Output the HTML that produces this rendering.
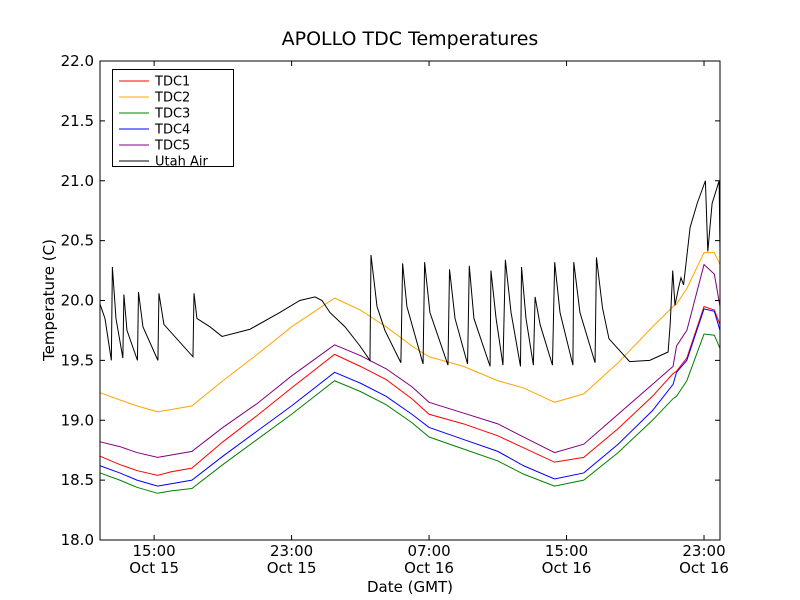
<!DOCTYPE html>
<html><head><meta charset="utf-8"><style>
body{margin:0;background:#fff}
svg{display:block;font-family:"DejaVu Sans","Liberation Sans",sans-serif}
</style></head><body>
<svg id="chart" width="800" height="600" viewBox="0 0 800 600">
<rect width="800" height="600" fill="#fff"/>
<text x="410" y="45" font-size="19" text-anchor="middle">APOLLO TDC Temperatures</text>
<g id="plot"></g>
<g id="axes"></g>
<text x="410" y="592" font-size="15" text-anchor="middle">Date (GMT)</text>
<text transform="translate(54,300) rotate(-90)" font-size="15" text-anchor="middle">Temperature (C)</text>
<g id="legend"></g>
</svg>
<script>
const hours=[11.85,13,14,15.2,16,17.2,19,21,23,25.5,27,28.5,30,31,33,35,36.5,38.3,40,42,44,45.2,45.4,46,47,47.6,47.93];
const tdc1=[18.70,18.63,18.58,18.54,18.57,18.60,18.82,19.04,19.27,19.55,19.45,19.34,19.18,19.05,18.97,18.87,18.77,18.65,18.69,18.93,19.20,19.39,19.41,19.52,19.95,19.92,19.80];
const tdc2=[19.23,19.17,19.12,19.07,19.09,19.12,19.33,19.55,19.78,20.02,19.92,19.78,19.62,19.53,19.45,19.33,19.27,19.15,19.22,19.48,19.78,19.95,19.97,20.10,20.40,20.40,20.30];
const tdc3=[18.56,18.50,18.44,18.39,18.41,18.43,18.63,18.84,19.05,19.33,19.24,19.13,18.98,18.86,18.76,18.66,18.55,18.45,18.50,18.73,19.00,19.18,19.20,19.33,19.72,19.71,19.60];
const tdc4=[18.62,18.56,18.50,18.45,18.47,18.50,18.70,18.91,19.12,19.40,19.31,19.20,19.05,18.94,18.84,18.74,18.62,18.51,18.56,18.80,19.08,19.30,19.40,19.50,19.93,19.91,19.75];
const tdc5=[18.82,18.78,18.73,18.69,18.71,18.74,18.94,19.14,19.37,19.63,19.54,19.43,19.28,19.15,19.06,18.97,18.86,18.73,18.80,19.05,19.30,19.45,19.62,19.75,20.30,20.22,19.95];
const airHours=[11.85,12.14,12.51,12.57,12.78,13.18,13.24,13.42,14.03,14.09,14.35,15.22,15.28,15.57,17.26,17.32,17.49,18.25,18.95,20.58,22.32,23.48,24.36,24.77,25.23,26.11,26.98,27.56,27.62,27.97,28.43,29.36,29.46,29.71,30.65,30.74,31.05,32.10,32.19,32.51,33.24,33.34,33.61,34.55,34.60,34.90,35.30,35.44,35.77,36.32,36.38,36.64,37.07,37.17,37.46,38.18,38.31,38.62,39.37,39.42,39.78,40.66,40.74,41.09,41.47,42.67,43.84,44.91,45.03,45.18,45.31,45.51,45.66,45.81,46.19,46.60,47.08,47.22,47.47,47.88,47.93];
const airValues=[19.97,19.85,19.50,20.28,19.85,19.52,20.05,19.75,19.50,20.07,19.78,19.50,20.06,19.80,19.53,20.06,19.85,19.78,19.70,19.76,19.90,20.00,20.03,20.00,19.90,19.78,19.62,19.50,20.38,19.95,19.75,19.48,20.31,19.95,19.47,20.32,19.90,19.46,20.26,19.85,19.47,20.29,19.85,19.45,20.25,19.85,19.46,20.34,19.90,19.45,20.28,19.85,19.46,20.03,19.80,19.46,20.32,19.90,19.46,20.32,19.90,19.48,20.36,19.94,19.68,19.49,19.50,19.57,19.80,20.25,19.96,20.10,20.19,20.13,20.61,20.81,21.00,20.41,20.81,21.00,20.40];
const yTicks=[18.0,18.5,19.0,19.5,20.0,20.5,21.0,21.5,22.0];
const xTickHours=[15,23,31,39,47];
const xTickTimes=["15:00","23:00","07:00","15:00","23:00"];
const xTickDates=["Oct 15","Oct 15","Oct 16","Oct 16","Oct 16"];
const seriesNames=["TDC1","TDC2","TDC3","TDC4","TDC5","Utah Air"];
const seriesColors=["red","orange","green","blue","purple","black"];

const L=100,R=720,T=61,B=540,H0=11.85,H1=47.93,V0=18,V1=22;
function xs(h){return L+(h-H0)/(H1-H0)*(R-L);}
function ys(v){return B-(v-V0)/(V1-V0)*(B-T);}
const NS="http://www.w3.org/2000/svg";
function mk(tag,attrs,parent){const e=document.createElementNS(NS,tag);for(const k in attrs)e.setAttribute(k,attrs[k]);parent.appendChild(e);return e;}
const plot=document.getElementById('plot');
const seriesList=[[hours,tdc1],[hours,tdc2],[hours,tdc3],[hours,tdc4],[hours,tdc5],[airHours,airValues]];
seriesList.forEach((s,i)=>{
  const d=s[0].map((h,j)=>(j?'L':'M')+xs(h).toFixed(2)+','+ys(s[1][j]).toFixed(2)).join('');
  const p=mk('path',{d:d,fill:'none',stroke:seriesColors[i],'stroke-width':1},plot);
  
  
});
const ax=document.getElementById('axes');
const frame=mk('rect',{x:L,y:T,width:R-L,height:B-T,fill:'none',stroke:'#000','stroke-width':1},ax);


yTicks.forEach(v=>{
  const y=ys(v);
  mk('line',{x1:L,x2:L+5,y1:y,y2:y,stroke:'#000'},ax);
  mk('line',{x1:R,x2:R-5,y1:y,y2:y,stroke:'#000'},ax);
  const t=mk('text',{x:L-6,y:y+5,'font-size':15,'text-anchor':'end'},ax);
  t.textContent=v.toFixed(1);
  
  
});
xTickHours.forEach((h,i)=>{
  const x=xs(h);
  mk('line',{x1:x,x2:x,y1:B,y2:B-5,stroke:'#000'},ax);
  mk('line',{x1:x,x2:x,y1:T,y2:T+5,stroke:'#000'},ax);
  const t=mk('text',{x:x,y:B+16,'font-size':15,'text-anchor':'middle'},ax);
  t.textContent=xTickTimes[i];
  
  
  const t2=mk('text',{x:x,y:B+33,'font-size':15,'text-anchor':'middle'},ax);
  t2.textContent=xTickDates[i];
  
  
});
const lg=document.getElementById('legend');
mk('rect',{x:112.5,y:69.5,width:121,height:97,fill:'#fff',stroke:'#000'},lg);
seriesNames.forEach((n,i)=>{
  const y=81+i*16;
  const g=mk('g',{},lg);
  
  
  mk('line',{x1:119,x2:149,y1:y,y2:y,stroke:seriesColors[i]},g);
  const t=mk('text',{x:155,y:y+4.5,'font-size':13},g);
  t.textContent=n;
});
</script>
</body></html>
